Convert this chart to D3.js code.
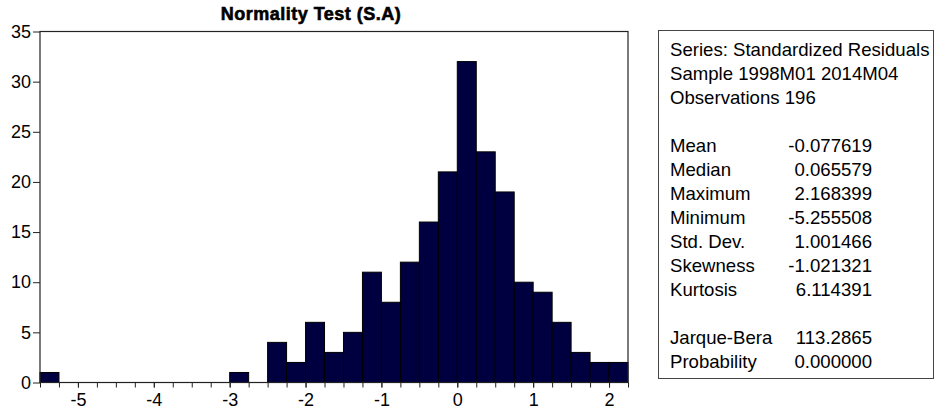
<!DOCTYPE html>
<html>
<head>
<meta charset="utf-8">
<script src="https://cdn.jsdelivr.net/npm/d3@7"></script>
<style>
    body { margin: 0; background: #fff; }
    svg { display: block; }
    text { font-family: "Liberation Sans", Arial, sans-serif; fill: #000; }
</style>
</head>
<body>
<div id="chart"></div>
<script>
// histogram bins (lower edge, upper edge) and counts
const binStart = [-5.5, -5.25, -5.0, -4.75, -4.5, -4.25, -4.0, -3.75, -3.5, -3.25, -3.0, -2.75,
    -2.5, -2.25, -2.0, -1.75, -1.5, -1.25, -1.0, -0.75, -0.5, -0.25, 0.0, 0.25, 0.5, 0.75,
    1.0, 1.25, 1.5, 1.75, 2.0];
const binEnd = [-5.25, -5.0, -4.75, -4.5, -4.25, -4.0, -3.75, -3.5, -3.25, -3.0, -2.75, -2.5,
    -2.25, -2.0, -1.75, -1.5, -1.25, -1.0, -0.75, -0.5, -0.25, 0.0, 0.25, 0.5, 0.75, 1.0,
    1.25, 1.5, 1.75, 2.0, 2.25];
const counts = [1, 0, 0, 0, 0, 0, 0, 0, 0, 0, 1, 0,
    4, 2, 6, 3, 5, 11, 8, 12, 16, 21, 32, 23, 19, 10,
    9, 6, 3, 2, 2];

const xTicks = [-5, -4, -3, -2, -1, 0, 1, 2];
const yTicks = [0, 5, 10, 15, 20, 25, 30, 35];

const chartTitle = "Normality Test (S.A)";
const headerLines = ["Series: Standardized Residuals", "Sample 1998M01 2014M04", "Observations 196"];
const statNames = ["Mean", "Median", "Maximum", "Minimum", "Std. Dev.", "Skewness", "Kurtosis"];
const statValues = ["-0.077619", "0.065579", "2.168399", "-5.255508", "1.001466", "-1.021321", "6.114391"];
const testNames = ["Jarque-Bera", "Probability"];
const testValues = ["113.2865", "0.000000"];

let totalWidth = 934, totalHeight = 415;
let plotLeft = 40, plotRight = 628, plotTop = 31.5, plotBottom = 382.5;
let fontSize = 18;
let boxFontSize = 18.6;
let barColor = "#000040";

let svg = d3.select("#chart").append("svg")
        .attr("width", totalWidth)
        .attr("height", totalHeight);

let xScale = d3.scaleLinear()
        .domain([binStart[0], binEnd[binEnd.length - 1]])
        .range([plotLeft, plotRight]);
let yScale = d3.scaleLinear()
        .domain([0, 35])
        .range([plotBottom, plotTop]);

makeBars();
makeFrame();
makeAxes();
makeTitle();
makeStatsBox();

function makeBars() {
    let bins = counts.map((c, i) => [binStart[i], binEnd[i], c]).filter(d => d[2] > 0);
    svg.append("g").selectAll("rect")
            .data(bins)
            .enter()
            .append("rect")
            .attr("x", d => xScale(d[0]))
            .attr("y", d => yScale(d[2]))
            .attr("width", d => xScale(d[1]) - xScale(d[0]))
            .attr("height", d => yScale(0) - yScale(d[2]))
            .attr("fill", barColor)
            .attr("stroke", "#000")
            .attr("stroke-width", 1);
}

function makeFrame() {
    svg.append("rect")
            .attr("x", xScale.range()[0])
            .attr("y", yScale.range()[1])
            .attr("width", xScale.range()[1] - xScale.range()[0])
            .attr("height", yScale.range()[0] - yScale.range()[1])
            .attr("fill", "none")
            .attr("stroke", "#222")
            .attr("stroke-width", 1.2);
}

function makeAxes() {
    // minor ticks on every bin edge, labels only on integers
    let minor = d3.axisBottom(xScale)
            .tickValues(binStart.concat([binEnd[binEnd.length - 1]]))
            .tickSize(5)
            .tickFormat("");
    let gMinor = svg.append("g")
            .attr("transform", "translate(0," + plotBottom + ")")
            .call(minor);
    gMinor.select(".domain").remove();

    let axisX = d3.axisBottom(xScale)
            .tickValues(xTicks)
            .tickSize(5)
            .tickPadding(6)
            .tickFormat(d3.format("d"));
    let gx = svg.append("g")
            .attr("transform", "translate(0," + plotBottom + ")")
            .call(axisX);
    gx.select(".domain").remove();
    gx.selectAll("text")
            .attr("font-size", fontSize)
            .attr("font-family", "Liberation Sans, Arial, sans-serif")
            .text(d => d3.format("d")(d).replace("\u2212", "-"));

    let axisY = d3.axisLeft(yScale)
            .tickValues(yTicks)
            .tickSize(7)
            .tickPadding(2);
    let gy = svg.append("g")
            .attr("transform", "translate(" + plotLeft + ",0)")
            .call(axisY);
    gy.select(".domain").remove();
    gy.selectAll("text")
            .attr("font-size", fontSize)
            .attr("font-family", "Liberation Sans, Arial, sans-serif");

    svg.selectAll(".tick line").attr("stroke", "#222");
}

function makeTitle() {
    svg.append("text")
            .attr("x", 311)
            .attr("y", 19.5)
            .attr("text-anchor", "middle")
            .attr("font-size", 18)
            .attr("font-weight", "bold")
            .attr("letter-spacing", 0.5)
            .attr("stroke", "#000")
            .attr("stroke-width", 0.6)
            .text(chartTitle);
}

function makeStatsBox() {
    let boxLeft = 658.5, boxTop = 30.5, boxRight = 933.5, boxBottom = 378.5;
    let textLeft = 670, valueRight = 872, firstBase = 56, lineStep = 24;

    svg.append("rect")
            .attr("x", boxLeft)
            .attr("y", boxTop)
            .attr("width", boxRight - boxLeft)
            .attr("height", boxBottom - boxTop)
            .attr("fill", "none")
            .attr("stroke", "#444")
            .attr("stroke-width", 1);

    let box = svg.append("g").attr("font-size", boxFontSize);

    box.selectAll("text.head")
            .data(headerLines)
            .enter()
            .append("text")
            .attr("class", "head")
            .attr("x", textLeft)
            .attr("y", (d, i) => firstBase + i * lineStep)
            .text(d => d);

    let rows = statNames.map((n, i) => [n, statValues[i], 4 + i])
            .concat(testNames.map((n, i) => [n, testValues[i], 12 + i]));

    box.selectAll("text.name")
            .data(rows)
            .enter()
            .append("text")
            .attr("class", "name")
            .attr("x", textLeft)
            .attr("y", d => firstBase + d[2] * lineStep)
            .text(d => d[0]);

    box.selectAll("text.value")
            .data(rows)
            .enter()
            .append("text")
            .attr("class", "value")
            .attr("x", valueRight)
            .attr("y", d => firstBase + d[2] * lineStep)
            .attr("text-anchor", "end")
            .text(d => d[1]);
}
</script>
</body>
</html>
